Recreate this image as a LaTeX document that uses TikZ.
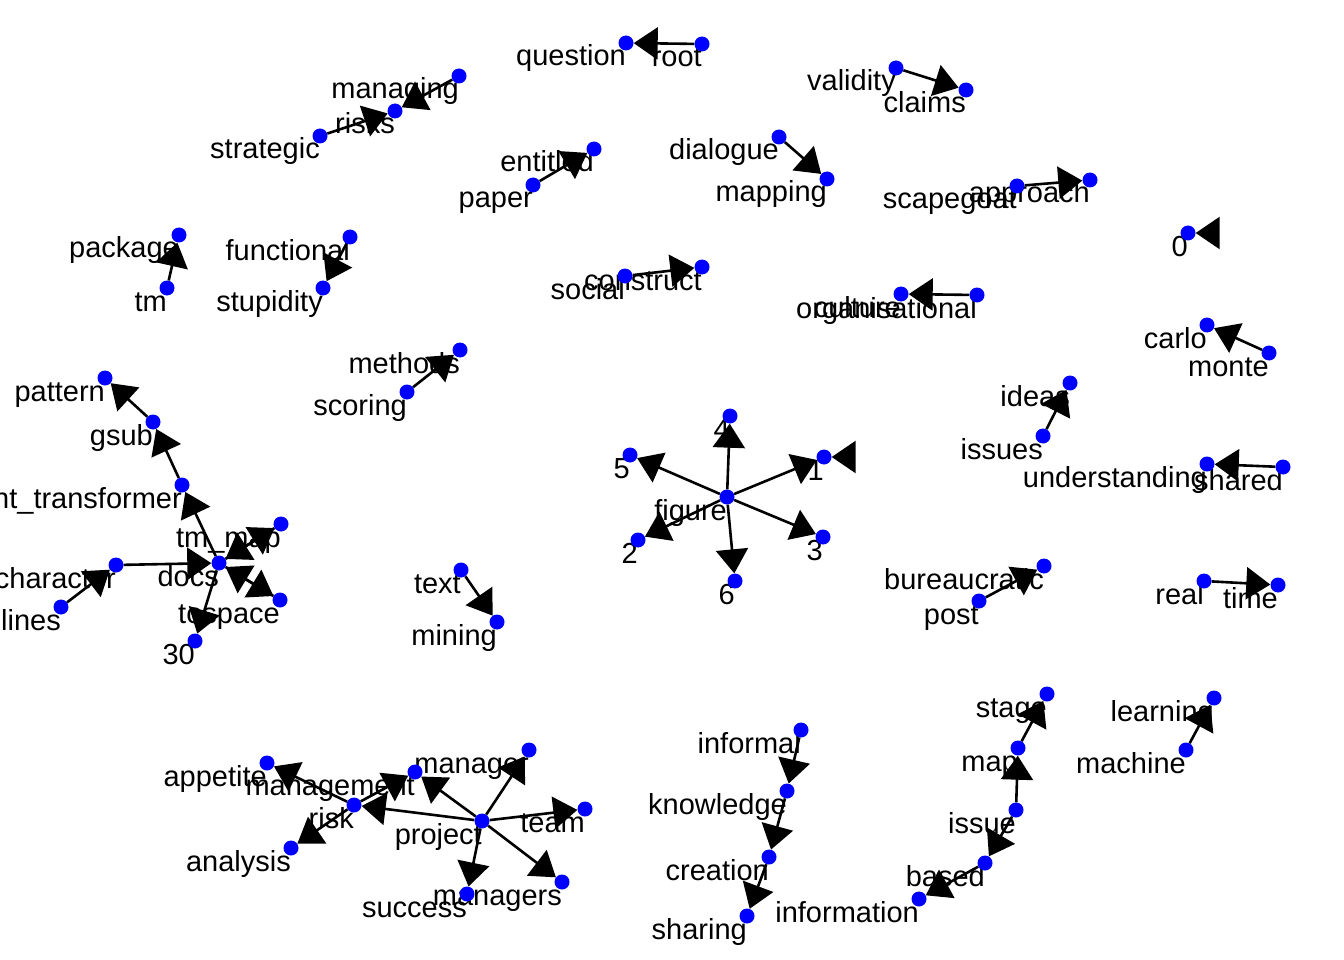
\documentclass[tikz,border=0pt]{standalone}
\usepackage{fontspec}
\setmainfont{Liberation Sans}
\usetikzlibrary{arrows.meta}
\pgfdeclarelayer{words}
\pgfdeclarelayer{arcs}
\pgfsetlayers{words,arcs,main}
\begin{document}
\begin{tikzpicture}[x=1pt,y=-1pt]
                \tikzstyle{vertex}=[circle,fill=blue,inner sep=0pt,minimum size=15pt]
                \tikzstyle{word}=[anchor=base east,inner sep=0pt,font=\fontsize{29pt}{29pt}\selectfont]
                \tikzstyle{arc}=[line width=2.6pt,-{Triangle[length=24pt,width=32pt]}]
                \useasboundingbox (0,0) rectangle (1344,960);
                % vertices
                \foreach \n/\x/\y in {question/626/43, root/702/44, managing/459/76, risks/395/111,
                    strategic/320/136, validity/896/68, claims/966/90, entitled/594/149, paper/533/185,
                    dialogue/779/137, mapping/827/179, scapegoat/1017/186, approach/1090/180,
                    package/179/235, tm/167/288, functional/350/237, stupidity/323/288, zero/1188/233,
                    social/625/276, construct/702/267, culture/901/294, organisational/977/295,
                    carlo/1207/325, monte/1269/353, methods/460/350, scoring/407/392,
                    pattern/105/378, gsub/153/422, ideas/1070/383, issues/1043/436,
                    ctrans/182/485, understanding/1207/464, shared/1283/467,
                    figure/727/497, four/730/416, five/630/455, one/824/457, two/638/540,
                    six/735/581, three/823/537, tmmap/281/524, docs/219/563, character/116/565,
                    lines/61/607, tospace/280/600, thirty/195/641, text/461/570, mining/497/622,
                    bureaucratic/1044/566, post/979/601, real/1204/581, time/1278/585,
                    stage/1047/694, map/1018/748, issue/1016/810, based/985/863, information/919/899,
                    learning/1214/698, machine/1186/750, informal/801/730, knowledge/787/791,
                    creation/769/857, sharing/747/916, appetite/267/763, management/415/772,
                    risk/354/805, analysis/291/848, manager/529/750, project/482/821,
                    team/585/809, managers/562/882, success/467/894}
                    \node[vertex] (\n) at (\x,\y) {};
                \coordinate (zeroloop) at (1218,233);
                \coordinate (oneloop) at (854,457);
                % labels
                \begin{pgfonlayer}{words}
                \foreach \n/\t in {question/question, root/root, managing/managing, risks/risks,
                    strategic/strategic, validity/validity, claims/claims, entitled/entitled, paper/paper,
                    dialogue/dialogue, mapping/mapping, scapegoat/scapegoat, approach/approach,
                    package/package, tm/tm, functional/functional, stupidity/stupidity, zero/0,
                    social/social, construct/construct, culture/culture, organisational/organisational,
                    carlo/carlo, monte/monte, methods/methods, scoring/scoring,
                    pattern/pattern, gsub/gsub, ideas/ideas, issues/issues,
                    ctrans/content\_transformer, understanding/understanding, shared/shared,
                    figure/figure, four/4, five/5, one/1, two/2, six/6, three/3,
                    tmmap/tm\_map, docs/docs, character/character, lines/lines, tospace/tospace,
                    thirty/30, text/text, mining/mining, bureaucratic/bureaucratic, post/post,
                    real/real, time/time, stage/stage, map/map, issue/issue, based/based,
                    information/information, learning/learning, machine/machine,
                    informal/informal, knowledge/knowledge, creation/creation, sharing/sharing,
                    appetite/appetite, management/management, risk/risk, analysis/analysis,
                    manager/manager, project/project, team/team, managers/managers, success/success}
                    \node[word] at ([yshift=-23pt]\n.center) {\t};
                \end{pgfonlayer}
                % arcs
                \begin{pgfonlayer}{arcs}
                \foreach \a/\b in {root/question, managing/risks, strategic/risks, paper/entitled,
                    dialogue/mapping, validity/claims, scapegoat/approach, tm/package,
                    functional/stupidity, social/construct, organisational/culture, zeroloop/zero,
                    monte/carlo, scoring/methods, issues/ideas, shared/understanding,
                    gsub/pattern, ctrans/gsub, docs/ctrans, docs/tmmap, tmmap/docs,
                    docs/tospace, tospace/docs, docs/thirty, character/docs, lines/character,
                    text/mining, figure/four, figure/five, figure/one, figure/two, figure/six,
                    figure/three, oneloop/one, post/bureaucratic, real/time, map/stage,
                    issue/map, issue/based, based/information, machine/learning,
                    informal/knowledge, knowledge/creation, creation/sharing,
                    project/manager, project/management, project/risk, project/team,
                    project/managers, project/success, risk/appetite, risk/management,
                    risk/analysis}
                    \draw[arc] (\a) -- (\b);
                \end{pgfonlayer}
            \end{tikzpicture}
\end{document}
